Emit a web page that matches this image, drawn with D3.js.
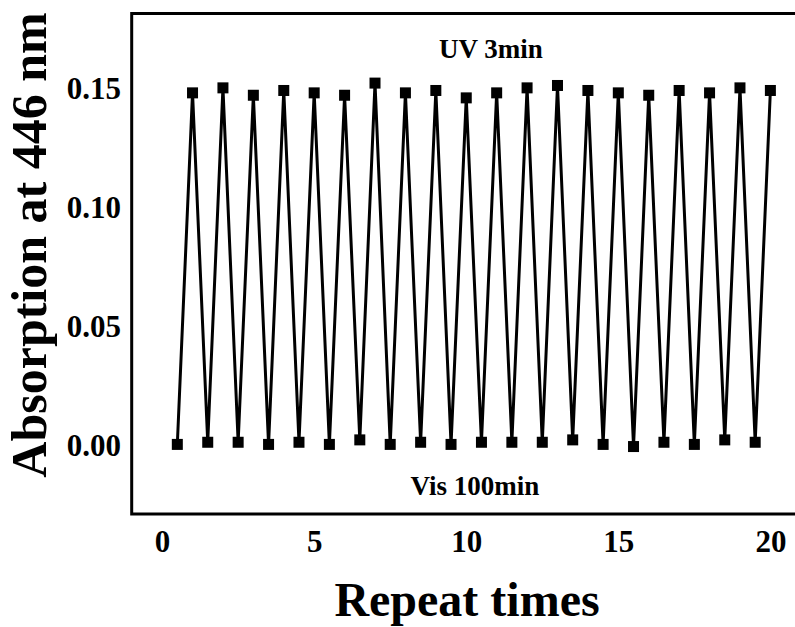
<!DOCTYPE html>
<html>
<head>
<meta charset="utf-8">
<script src="https://cdn.jsdelivr.net/npm/d3@7"></script>
<style>
  body { margin: 0; background: #fff; }
  svg { display: block; }
  text { font-family: "Liberation Serif", "Times New Roman", serif; font-weight: bold; fill: #000; }
</style>
</head>
<body>
<div id="chart-area"></div>
<script>
// repeat positions (Vis at half steps, UV at whole steps)
var repeat = [0.5, 1, 1.5, 2, 2.5, 3, 3.5, 4, 4.5, 5, 5.5, 6, 6.5, 7, 7.5, 8, 8.5, 9, 9.5, 10,
              10.5, 11, 11.5, 12, 12.5, 13, 13.5, 14, 14.5, 15, 15.5, 16, 16.5, 17, 17.5, 18, 18.5, 19, 19.5, 20]
var absorb = [-0.0008, 0.1467, 0.0001, 0.1488, 0.0001, 0.1457, -0.0008, 0.1477, 0.0001, 0.1467,
              -0.0008, 0.1457, 0.0011, 0.1508, -0.0008, 0.1467, 0.0001, 0.1477, -0.0008, 0.1446,
              0.0001, 0.1467, 0.0001, 0.1488, 0.0001, 0.1498, 0.0011, 0.1477, -0.0008, 0.1467,
              -0.0017, 0.1457, 0.0001, 0.1477, -0.0008, 0.1467, 0.0011, 0.1488, 0.0001, 0.1477]
var xTicks = [0, 5, 10, 15, 20]
var yTicks = [0, 0.05, 0.10, 0.15]

var data = repeat.map((r, i) => ({x: r, y: absorb[i]}))

var cw = 795
var ch = 627

var svg = d3.select("#chart-area").append("svg")
    .attr("width", cw)
    .attr("height", ch)

var x = d3.scaleLinear()
    .domain([-1, 21])
    .range([131.7, 800.8])

var y = d3.scaleLinear()
    .domain([-0.03, 0.18])
    .range([514, 13.5])

// frame
svg.append("rect")
    .attr("x", x(-1))
    .attr("y", y(0.18))
    .attr("width", x(21) - x(-1))
    .attr("height", y(-0.03) - y(0.18))
    .attr("fill", "none")
    .attr("stroke", "#000")
    .attr("stroke-width", 3)

var bottomAxis = d3.axisBottom(x)
    .tickValues(xTicks)
    .tickSize(0)
    .tickPadding(16.3)
    .tickFormat(d3.format("d"))

var xAxisGroup = svg.append("g")
    .attr("transform", "translate(0, " + y(-0.03) + ")")
    .call(bottomAxis)
xAxisGroup.select(".domain").remove()
xAxisGroup.selectAll("text")
    .attr("font-size", "31px")
    .attr("font-family", null)

var leftAxis = d3.axisLeft(y)
    .tickValues(yTicks)
    .tickSize(0)
    .tickPadding(10.7)
    .tickFormat(d3.format(".2f"))

var yAxisGroup = svg.append("g")
    .attr("transform", "translate(" + x(-1) + ", 0)")
    .call(leftAxis)
yAxisGroup.select(".domain").remove()
yAxisGroup.selectAll("text")
    .attr("font-size", "31px")
    .attr("font-family", null)
    .attr("dy", "0.42em")

svg.append("text")
    .attr("x", 467)
    .attr("y", 616)
    .attr("font-size", "48px")
    .attr("text-anchor", "middle")
    .text("Repeat times")

svg.append("text")
    .attr("transform", "translate(46, 245) rotate(-90)")
    .attr("font-size", "50px")
    .attr("text-anchor", "middle")
    .text("Absorption at 446 nm")

svg.append("text")
    .attr("x", 491)
    .attr("y", 58)
    .attr("font-size", "27px")
    .attr("text-anchor", "middle")
    .text("UV 3min")

svg.append("text")
    .attr("x", 475)
    .attr("y", 495)
    .attr("font-size", "27px")
    .attr("text-anchor", "middle")
    .text("Vis 100min")

var line = d3.line()
    .x(d => x(d.x))
    .y(d => y(d.y))

svg.append("path")
    .datum(data)
    .attr("d", line)
    .attr("fill", "none")
    .attr("stroke", "#000")
    .attr("stroke-width", 3)
    .attr("stroke-linejoin", "miter")

var size = 11
svg.selectAll(".pt")
    .data(data)
    .enter()
    .append("rect")
    .attr("class", "pt")
    .attr("x", d => x(d.x) - size / 2)
    .attr("y", d => y(d.y) - size / 2)
    .attr("width", size)
    .attr("height", size)
    .attr("fill", "#000")
</script>
</body>
</html>
